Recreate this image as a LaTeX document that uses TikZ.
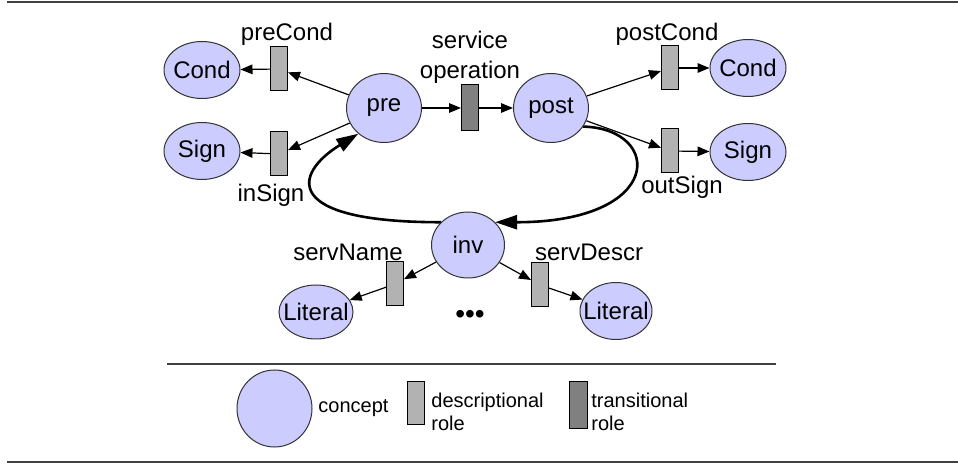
\documentclass[tikz,border=0pt]{standalone}
\usepackage{fontspec}
\setmainfont{Liberation Sans}
\usetikzlibrary{shapes.geometric}
\usetikzlibrary{arrows.meta}
\pgfdeclarelayer{background}
\pgfdeclarelayer{foreground}
\pgfsetlayers{background,main,foreground}
\definecolor{conceptblue}{HTML}{CCCCFF}
\definecolor{descgray}{HTML}{B2B2B2}
\definecolor{transgray}{HTML}{808080}
\definecolor{rulegray}{HTML}{404040}

\begin{document}
\begin{tikzpicture}[x=0.5pt, y=-0.5pt,
						font=\fontsize{12}{15}\selectfont,
						concept/.style={ellipse, draw=black!80, fill=conceptblue, line width=0.5pt, inner sep=0pt, minimum width=38pt, minimum height=28.5pt},
						bigconcept/.style={concept, minimum width=37.5pt, minimum height=34.5pt},
						descrole/.style={rectangle, draw=black, fill=descgray, line width=0.5pt, inner sep=0pt, minimum width=8.5pt, minimum height=22pt},
						transrole/.style={descrole, fill=transgray, minimum height=23pt},
						rolearrow/.style={-{Triangle[length=6pt,width=4.8pt]}, line width=0.6pt},
						looparrow/.style={-{Triangle[length=11pt,width=7pt]}, line width=1.3pt},
						rulers/.style={draw=rulegray, line width=1pt},
						legendtext/.style={font=\fontsize{10}{11.5}\selectfont, align=left, anchor=west, inner sep=0pt},
						]
						\useasboundingbox (0,0) rectangle (958,464);
						%Nodes
						\node[concept, label=center:Cond]      (condL) 	at 	(202,70)           {};
						\node[concept, label=center:Sign]      (signL) 	at 	(202,151)          {};
						\node[descrole]      (preCond) 	at 	(279,69)           {};
						\node[descrole]      (inSign) 	at 	(279,154)          {};
						\node[bigconcept, label=center:pre]      (pre) 	at 	(384,108)          {};
						\node[transrole]      (servOp) 	at 	(470,108)          {};
						\node[bigconcept, label=center:post]      (post) 	at 	(551,108)          {};
						\node[descrole]      (postCond) 	at 	(670,68)           {};
						\node[descrole]      (outSign) 	at 	(670,151)          {};
						\node[concept, label=center:Cond]      (condR) 	at 	(748,68)           {};
						\node[concept, label=center:Sign]      (signR) 	at 	(748,152)          {};
						\node[bigconcept, minimum width=36.5pt, minimum height=33pt, label=center:inv]      (inv) 	at 	(468,245)          {};
						\node[descrole]      (servName) 	at 	(395,284)          {};
						\node[descrole]      (servDescr) 	at 	(540,285)          {};
						\node[concept, minimum width=37pt, minimum height=27pt, label=center:Literal]      (litL) 	at 	(316,312)          {};
						\node[concept, minimum width=36pt, label=center:Literal]      (litR) 	at 	(616,311)          {};
						\node[font=\fontsize{14}{14}\selectfont]      (dots) 	at 	(470,317)          {•••};

						%Labels
						\node           (lblPreCond) 	at	(287,34) 		{preCond};
						\node           (lblInSign) 	at	(271,195) 		{inSign};
						\node[align=center]           (lblServOp) 	at	(470,57) 		{service\\operation};
						\node           (lblPostCond) 	at	(667,34) 		{postCond};
						\node           (lblOutSign) 	at	(682,187) 		{outSign};
						\node           (lblServName) 	at	(348,252) 		{servName};
						\node           (lblServDescr) 	at	(589,252) 		{servDescr};

						%Legend
						\node[bigconcept, minimum height=38.5pt]      (legConcept) 	at 	(274.5,408.5)      {};
						\node[legendtext]      (lblConcept) 	at 	(318,408)          {concept};
						\node[descrole, minimum height=21.5pt]      (legDesc) 	at 	(415.5,403.5)      {};
						\node[legendtext]      (lblDesc) 	at 	(431,412)          {descriptional\\role};
						\node[transrole, minimum width=9pt, minimum height=23.5pt]      (legTrans) 	at 	(578,405.5)        {};
						\node[legendtext]      (lblTrans) 	at 	(591,412)          {transitional\\role};

						\begin{pgfonlayer}{background}
						%Lines
						\draw[rolearrow] (pre) -- (preCond);
						\draw[rolearrow] (pre) -- (inSign);
						\draw[rolearrow] (preCond) -- (condL);
						\draw[rolearrow] (inSign) -- (signL);

						\draw[rolearrow] (pre) -- (servOp);
						\draw[rolearrow] (servOp) -- (post);

						\draw[rolearrow] (post) -- (postCond);
						\draw[rolearrow] (post) -- (outSign);
						\draw[rolearrow] (postCond) -- (condR);
						\draw[rolearrow] (outSign) -- (signR);

						\draw[rolearrow] (inv) -- (servName);
						\draw[rolearrow] (inv) -- (servDescr);
						\draw[rolearrow] (servName) -- (litL);
						\draw[rolearrow] (servDescr) -- (litR);

						\draw[looparrow] (inv.140) .. controls +(-160,0) and +(-65,40) .. (pre.225);
						\draw[looparrow] (post.330) .. controls +(80,2) and +(170,0) .. (inv.40);

						\draw[rulers] (7,2.5) -- (958,2.5);
						\draw[rulers] (167,364) -- (776,364);
						\draw[rulers] (7,462) -- (958,462);
						\end{pgfonlayer}
					\end{tikzpicture}
\end{document}
